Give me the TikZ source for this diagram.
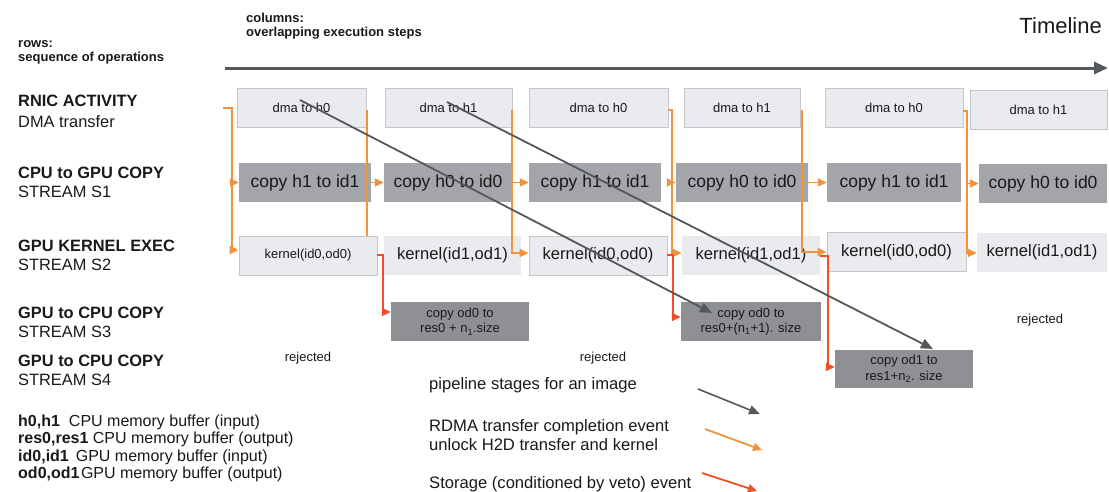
\documentclass[tikz,border=0pt]{standalone}
\usepackage{fontspec}
\setmainfont{Liberation Sans}
\usetikzlibrary{arrows.meta}
\definecolor{lightfill}{RGB}{233,235,238}
\definecolor{lightborder}{RGB}{196,198,201}
\definecolor{copyfill}{RGB}{163,165,168}
\definecolor{odfill}{RGB}{142,144,147}
\definecolor{arrgray}{RGB}{85,88,90}
\definecolor{arrorange}{RGB}{241,146,62}
\definecolor{arrred}{RGB}{240,78,40}
\definecolor{txt}{RGB}{25,25,25}
\tikzset{
  fs/.style={font=\fontsize{#1}{18}\selectfont},
  fsb/.style={font=\bfseries\fontsize{#1}{18}\selectfont},
  dmabox/.style={draw=lightborder, line width=0.8pt, fill=lightfill, minimum height=39pt, inner sep=0pt, fs=13, text=txt},
  copybox/.style={fill=copyfill, minimum height=39pt, inner sep=0pt, fs=17.5, text=txt},
  kbox/.style={fill=lightfill, minimum height=39pt, inner sep=0pt, fs=16.6, text=txt},
  kboxb/.style={kbox, draw=lightborder, line width=0.8pt},
  odbox/.style={fill=odfill, minimum height=39pt, inner sep=0pt, font=\fontsize{13}{15.5}\selectfont, text=txt, align=center},
  lbl/.style={anchor=base west, inner sep=0pt, text=txt},
  grayarr/.style={draw=arrgray, line width=1.8pt, -{Triangle[length=12pt,width=10pt]}},
  orl/.style={draw=arrorange, line width=1.8pt},
  ora/.style={orl, -{Triangle[length=9pt,width=8pt]}},
  redl/.style={draw=arrred, line width=1.8pt},
  reda/.style={redl, -{Triangle[length=9pt,width=8pt]}},
}
\begin{document}
\begin{tikzpicture}[x=1pt,y=-1pt]
\useasboundingbox (0,0) rectangle (1109,491);
% headings
\node[lbl, fsb=13] (rows) at (18,47) {rows:};
\node[lbl, fsb=13] (seq) at (18,61) {sequence of operations};
\node[lbl, fsb=13] (cols) at (246,22) {columns:};
\node[lbl, fsb=13] (ovl) at (246,36) {overlapping execution steps};
\node[anchor=base east, inner sep=0pt, fs=22, text=txt] (tl) at (1102,33) {Timeline};
\coordinate (tls) at (225,68);
\coordinate (tle) at (1108,68);
\draw[draw=arrgray, line width=3pt, -{Triangle[length=14pt,width=12pt]}] (tls) -- (tle);
% row labels
\node[lbl, fsb=16.4] (r1a) at (18,106) {RNIC ACTIVITY};
\node[lbl, fs=16.4] (r1b) at (18,127) {DMA transfer};
\node[lbl, fsb=16.4] (r2a) at (18,178) {CPU to GPU COPY};
\node[lbl, fs=16.4] (r2b) at (18,197) {STREAM S1};
\node[lbl, fsb=16.4] (r3a) at (18,251) {GPU KERNEL EXEC};
\node[lbl, fs=16.4] (r3b) at (18,270) {STREAM S2};
\node[lbl, fsb=16.4] (r4a) at (18,318) {GPU to CPU COPY};
\node[lbl, fs=16.4] (r4b) at (18,337) {STREAM S3};
\node[lbl, fsb=16.4] (r5a) at (18,366) {GPU to CPU COPY};
\node[lbl, fs=16.4] (r5b) at (18,385) {STREAM S4};
% dma row
\node[dmabox, minimum width=129pt] (d1) at (301.5,107.5) {dma to h0};
\node[dmabox, minimum width=127pt] (d2) at (448.5,107.5) {dma to h1};
\node[dmabox, minimum width=139pt] (d3) at (598.5,107.5) {dma to h0};
\node[dmabox, minimum width=116pt] (d4) at (742,107.5) {dma to h1};
\node[dmabox, minimum width=138pt] (d5) at (894,107.5) {dma to h0};
\node[dmabox, minimum width=137pt] (d6) at (1038.5,109.5) {dma to h1};
% copy row
\node[copybox, minimum width=132pt] (c1) at (305,182.5) {copy h1 to id1};
\node[copybox, minimum width=128pt] (c2) at (448,182.5) {copy h0 to id0};
\node[copybox, minimum width=132pt] (c3) at (595,182.5) {copy h1 to id1};
\node[copybox, minimum width=132pt] (c4) at (742,182.5) {copy h0 to id0};
\node[copybox, minimum width=134pt] (c5) at (894,182.5) {copy h1 to id1};
\node[copybox, minimum width=128pt] (c6) at (1043,183.5) {copy h0 to id0};
% kernel row
\node[kboxb, minimum width=138pt, fs=13] (k1) at (308,255.5) {kernel(id0,od0)};
\node[kbox, minimum width=137pt] (k2) at (452.5,255.5) {kernel(id1,od1)};
\node[kboxb, minimum width=138pt] (k3) at (598,255.5) {kernel(id0,od0)};
\node[kbox, minimum width=138pt] (k4) at (751,255) {kernel(id1,od1)};
\node[kboxb, minimum width=139pt] (k5) at (896.5,252) {kernel(id0,od0)};
\node[kbox, minimum width=130pt] (k6) at (1042,252.5) {kernel(id1,od1)};
% output copies
\node[odbox, minimum width=138pt] (o1) at (460,321.5) {copy od0 to\\res0 + n\textsubscript{1}.size};
\node[odbox, minimum width=140pt] (o2) at (751,321.5) {copy od0 to\\res0+(n\textsubscript{1}+1). size};
\node[odbox, minimum width=138pt, minimum height=38pt] (o3) at (904,369) {copy od1 to\\res1+n\textsubscript{2}. size};
% rejected
\node[fs=13, text=txt, inner sep=0pt] (rj1) at (308,358) {rejected};
\node[fs=13, text=txt, inner sep=0pt] (rj2) at (603,358) {rejected};
\node[fs=13, text=txt, inner sep=0pt] (rj3) at (1040,320) {rejected};
% orange connectors
\coordinate (os1) at (223,108);
\draw[orl] (os1) -- (232,108) -- (232,182.5);
\draw[ora] (232,182.5) -- (c1.west);
\draw[ora] (232,182.5) -- (232,250) -- (k1.west |- 0,250);
\coordinate (os2) at (367,110);
\draw[orl] (os2) -- (367,236);
\draw[ora] (c1.east) -- (c2.west);
\coordinate (os3) at (512,110);
\draw[ora] (os3) -- (512,253) -- (k3.west |- 0,253);
\draw[ora] (512,182.5) -- (c3.west);
\coordinate (os4) at (668,110);
\draw[ora] (os4) -- (672,110) -- (672,253) -- (k4.west |- 0,253);
\draw[ora] (672,182.5) -- (c4.west);
\coordinate (os5) at (802,110);
\draw[ora] (os5) -- (802,252) -- (k5.west |- 0,252);
\draw[ora] (802,182.5) -- (c5.west);
\coordinate (os6) at (963,111);
\draw[ora] (os6) -- (967,111) -- (967,253) -- (k6.west |- 0,253);
\draw[ora] (967,183.5) -- (c6.west);
% red connectors
\draw[reda] (k1.east |- 0,255) -- (383,255) -- (383,312) -- (o1.west |- 0,312);
\draw[reda] (k3.east |- 0,255) -- (673,255) -- (673,317) -- (o2.west |- 0,317);
\draw[reda] (k4.east |- 0,256) -- (828,256) -- (828,367) -- (o3.west |- 0,367);
% pipeline diagonals
\coordinate (g1s) at (300,100);
\coordinate (g1e) at (712,313);
\draw[grayarr] (g1s) -- (g1e);
\coordinate (g2s) at (447,102);
\coordinate (g2e) at (933,349);
\draw[grayarr] (g2s) -- (g2e);
% legend left
\node[lbl, fs=16] (lg1) at (18,426) {\textbf{h0,h1}\hspace{9pt}CPU memory buffer (input)};
\node[lbl, fs=16] (lg2) at (18,443.5) {\textbf{res0,res1} CPU memory buffer (output)};
\node[lbl, fs=16] (lg3) at (18,461) {\textbf{id0,id1}\hspace{7pt}GPU memory buffer (input)};
\node[lbl, fs=16] (lg4) at (18,478.5) {\textbf{od0,od1}\hspace{1.5pt}GPU memory buffer (output)};
% legend middle
\node[lbl, fs=16.6] (lm1) at (429,389) {pipeline stages for an image};
\node[lbl, fs=16.6] (lm2) at (429,431) {RDMA transfer completion event};
\node[lbl, fs=16.6] (lm3) at (429,450) {unlock H2D transfer and kernel};
\node[lbl, fs=16.6] (lm4) at (429,488) {Storage (conditioned by veto) event};
\coordinate (la1) at (698,389);
\coordinate (lb1) at (760,414);
\draw[grayarr, line width=1.6pt, -{Triangle[length=11pt,width=9pt]}] (la1) -- (lb1);
\coordinate (la2) at (705,429);
\coordinate (lb2) at (762,450);
\draw[ora] (la2) -- (lb2);
\coordinate (la3) at (702,473);
\coordinate (lb3) at (757,491);
\draw[reda] (la3) -- (lb3);
\end{tikzpicture}
\end{document}
